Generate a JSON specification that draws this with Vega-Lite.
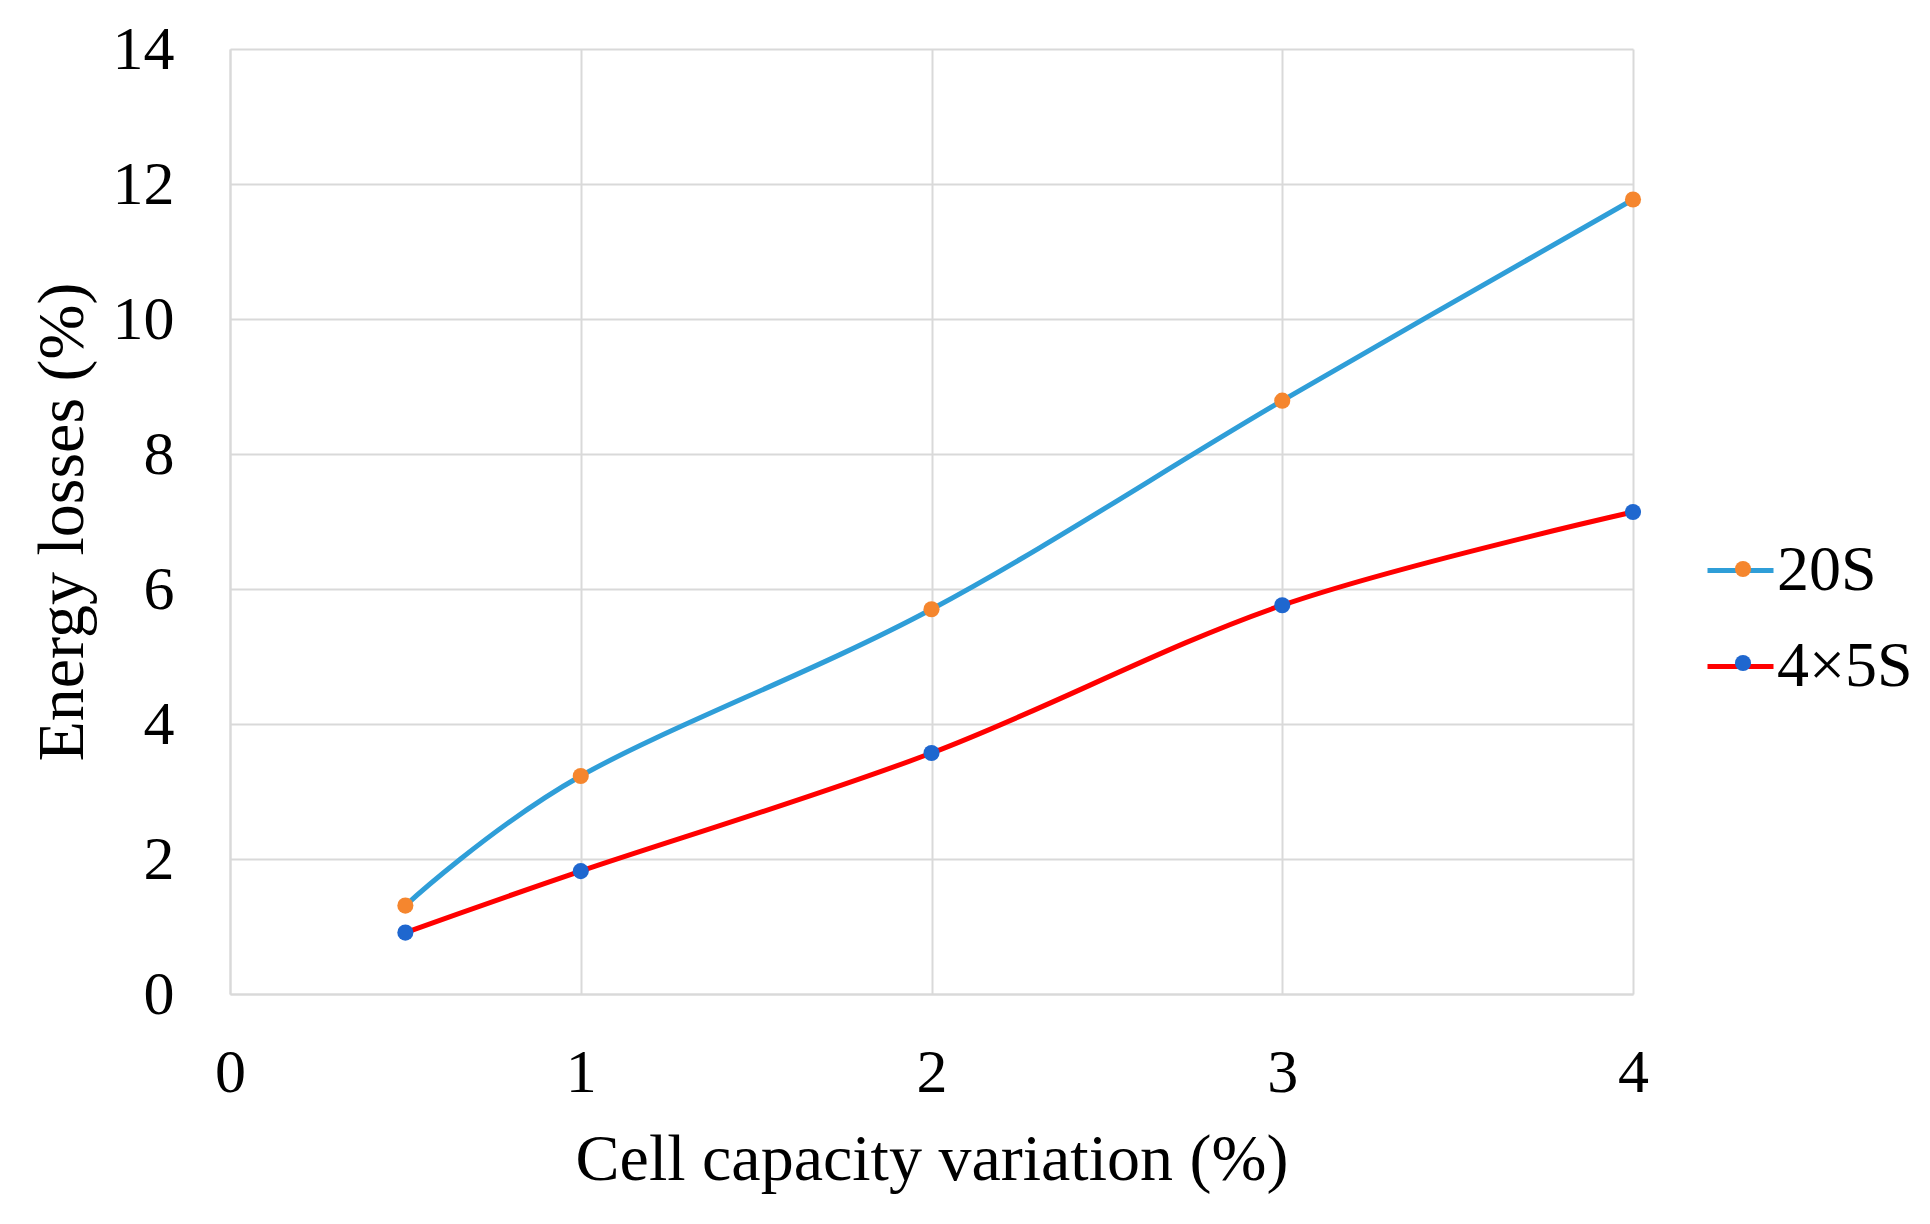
{
  "$schema": "https://vega.github.io/schema/vega-lite/v6.json",
  "autosize": {"type": "none"},
  "width": 1403,
  "height": 945,
  "padding": {"left": 230, "top": 49, "right": 297, "bottom": 230},
  "background": "white",
  "config": {
    "view": {"stroke": null},
    "font": "Liberation Serif",
    "axis": {
      "labelFont": "Liberation Serif",
      "titleFont": "Liberation Serif",
      "labelFontSize": 62,
      "titleFontSize": 66,
      "titleFontWeight": "normal",
      "labelColor": "black",
      "titleColor": "black",
      "gridColor": "#d9d9d9",
      "gridWidth": 2,
      "domainColor": "#d9d9d9",
      "domainWidth": 2,
      "ticks": false
    },
    "legend": {
      "labelFont": "Liberation Serif",
      "labelFontSize": 64,
      "labelColor": "black",
      "padding": 0
    }
  },
  "data": {
    "values": [
      {"variation": 0.5, "loss": 1.31, "series": "20S", "marker": "20S"},
      {"variation": 1, "loss": 3.23, "series": "20S", "marker": "20S"},
      {"variation": 2, "loss": 5.70, "series": "20S", "marker": "20S"},
      {"variation": 3, "loss": 8.79, "series": "20S", "marker": "20S"},
      {"variation": 4, "loss": 11.77, "series": "20S", "marker": "20S"},
      {"variation": 0.5, "loss": 0.91, "series": "4×5S", "marker": "4×5S"},
      {"variation": 1, "loss": 1.82, "series": "4×5S", "marker": "4×5S"},
      {"variation": 2, "loss": 3.57, "series": "4×5S", "marker": "4×5S"},
      {"variation": 3, "loss": 5.76, "series": "4×5S", "marker": "4×5S"},
      {"variation": 4, "loss": 7.14, "series": "4×5S", "marker": "4×5S"}
    ]
  },
  "encoding": {
    "x": {
      "field": "variation",
      "type": "quantitative",
      "title": "Cell capacity variation (%)",
      "scale": {"domain": [0, 4], "nice": false},
      "axis": {"values": [0, 1, 2, 3, 4], "labelPadding": 48, "titlePadding": 24, "labelFlush": false}
    },
    "y": {
      "field": "loss",
      "type": "quantitative",
      "title": "Energy losses (%)",
      "scale": {"domain": [0, 14], "nice": false},
      "axis": {"values": [0, 2, 4, 6, 8, 10, 12, 14], "labelPadding": 56, "titlePadding": 16, "labelFlush": false}
    }
  },
  "layer": [
    {
      "mark": {"type": "line", "interpolate": "cardinal", "tension": 0, "strokeWidth": 5},
      "encoding": {
        "stroke": {
          "field": "series",
          "type": "nominal",
          "scale": {"range": ["#2f9ed8", "#ff0000"]},
          "legend": {
            "title": null,
            "orient": "none",
            "legendX": 1475,
            "legendY": 486,
            "symbolType": "stroke",
            "symbolSize": 4356,
            "symbolStrokeWidth": 5,
            "labelOffset": 1,
            "rowPadding": 28
          }
        }
      }
    },
    {
      "mark": {"type": "point", "filled": true, "size": 260, "opacity": 1, "shape": "circle"},
      "encoding": {
        "fill": {
          "field": "marker",
          "type": "nominal",
          "scale": {"range": ["#f5862e", "#1f67cf"]},
          "legend": {
            "title": null,
            "orient": "none",
            "legendX": 1481,
            "legendY": 488,
            "symbolType": "circle",
            "symbolSize": 260,
            "symbolStrokeWidth": 0,
            "symbolOpacity": 1,
            "labelOffset": 0,
            "rowPadding": 30,
            "labelExpr": "''"
          }
        }
      }
    }
  ]
}
